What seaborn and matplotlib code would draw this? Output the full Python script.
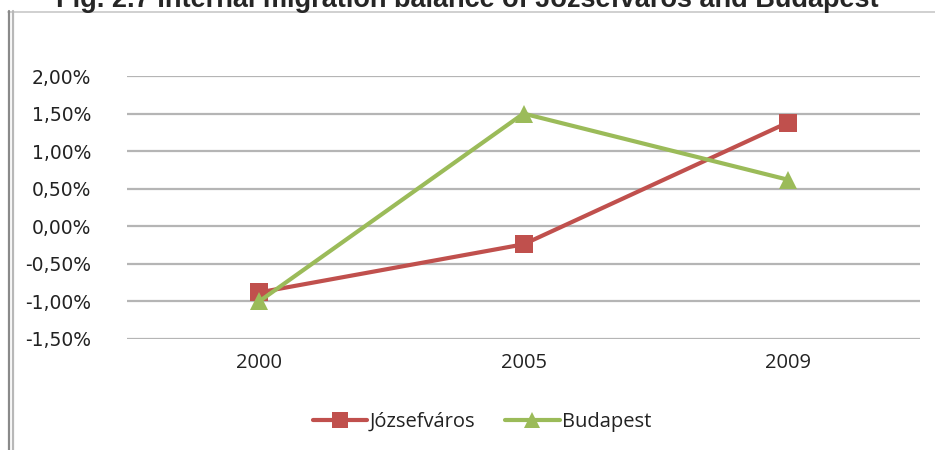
import matplotlib
matplotlib.use('Agg')
import matplotlib.pyplot as plt
from matplotlib.lines import Line2D
from matplotlib.ticker import FuncFormatter
import seaborn as sns
import pandas as pd

# adatok (%)
years = ['2000', '2005', '2009']
jozsefvaros = [-0.88, -0.24, 1.38]
budapest = [-1.00, 1.50, 0.62]
series_names = ['Józsefváros', 'Budapest']
colors = ['#C0504D', '#9BBB59']
yticks = [-1.5, -1.0, -0.5, 0.0, 0.5, 1.0, 1.5, 2.0]

df = pd.DataFrame({
    'year': years * 2,
    'value': jozsefvaros + budapest,
    'series': [series_names[0]] * 3 + [series_names[1]] * 3,
})

sns.set_style('white')
fig = plt.figure(figsize=(9.35, 4.5), dpi=100)
ax = fig.add_axes([127 / 935, 1 - 339 / 450, (920 - 127) / 935, (339 - 76) / 450])

sns.lineplot(data=df, x='year', y='value', hue='series', style='series',
             markers={'Józsefváros': 's', 'Budapest': '^'}, dashes=False,
             palette=dict(zip(series_names, colors)), linewidth=3,
             markersize=13, markeredgewidth=0, ax=ax, legend=False,
             sort=False)
for ln in ax.lines:
    ln.set_clip_on(False)

ax.set_xlim(-0.5, 2.5)
ax.set_ylim(-1.5, 2.0)
ax.set_yticks(yticks)
ax.yaxis.set_major_formatter(FuncFormatter(lambda v, p: f'{v:.2f}%'.replace('.', ',')))
ax.grid(axis='y', color='#b5b5b5', linewidth=1.6)
ax.set_axisbelow(True)
for s in ax.spines.values():
    s.set_visible(False)
ax.tick_params(length=0)
ax.tick_params(axis='y', pad=26, labelsize=13.5, labelcolor='#222222')
ax.tick_params(axis='x', pad=10, labelcolor='#222222')
for t in ax.get_xticklabels():
    t.set_fontfamily('Open Sans')
    t.set_fontsize(14.5)
ax.set_xlabel('')
ax.set_ylabel('')

handles = [Line2D([], [], color=c, marker=m, linewidth=3, markersize=12, markeredgewidth=0)
           for c, m in zip(colors, ['s', '^'])]
fig.legend(handles, series_names, loc='center', bbox_to_anchor=(482 / 935, 1 - 422 / 450),
           ncol=2, frameon=False, prop={'family': 'Open Sans', 'size': 14.5},
           handlelength=2.7, handletextpad=0.1, columnspacing=1.5, labelcolor='#222222')

# keret és levágott cím
fig.add_artist(Line2D([8 / 935, 1], [1 - 11.5 / 450] * 2, color='#c8c8c8', linewidth=1.2))
fig.add_artist(Line2D([9 / 935] * 2, [0, 1 - 11 / 450], color='#8a8a8a', linewidth=1.6))
fig.add_artist(Line2D([13 / 935] * 2, [0, 1 - 11 / 450], color='#b8b8b8', linewidth=1.6))
fig.text(467 / 935, 1 - 7 / 450, 'Fig. 2.7 Internal migration balance of Józsefváros and Budapest',
         ha='center', va='baseline', fontsize=19.5, fontweight='bold',
         family='Liberation Sans')

fig.savefig('out.png', dpi=100)
